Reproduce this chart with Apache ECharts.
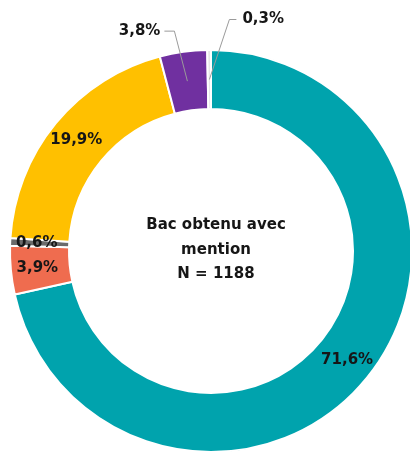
<!DOCTYPE html>
<html>
<head>
<meta charset="utf-8">
<script src="https://cdn.jsdelivr.net/npm/echarts@6/dist/echarts.min.js"></script>
<style>
  html, body { margin: 0; padding: 0; background: #fff; }
  #chart { width: 410px; height: 453px; }
</style>
</head>
<body>
<div id="chart"></div>
<script>
// donnees
var categories = ['71,6%', '3,9%', '0,6%', '19,9%', '3,8%', '0,3%'];
var values = [71.6, 3.9, 0.6, 19.9, 3.8, 0.3];
var colors = ['#00A3AD', '#EF6C4F', '#6B6B6B', '#FFC000', '#7030A0', '#E6E6E6'];
var outsideLabels = [4, 5]; // petites parts : etiquette dehors
var centerLines = ['Bac obtenu avec', 'mention', 'N = 1188'];

var CX = 211, CY = 251, R0 = 142, R1 = 201;
var FONT = '"DejaVu Sans"';

var chart = echarts.init(document.getElementById('chart'));

var labelText = {
  fontFamily: FONT,
  fontWeight: 'bold',
  fontSize: 15,
  color: '#161616'
};

// serie principale : parts + etiquettes internes
var mainData = values.map(function (v, i) {
  return {
    value: v,
    name: categories[i],
    itemStyle: { color: colors[i] },
    label: { show: outsideLabels.indexOf(i) < 0 }
  };
});

// serie superposee transparente : etiquettes externes avec trait au-dessus des parts
var overlayData = values.map(function (v, i) {
  var out = outsideLabels.indexOf(i) >= 0;
  return {
    value: v,
    name: categories[i],
    label: { show: out },
    labelLine: { show: out }
  };
});

var option = {
  animation: false,
  title: {
    text: centerLines.join('\n'),
    left: 211,
    top: 208,
    textAlign: 'center',
    textStyle: Object.assign({ lineHeight: 24.5 }, labelText)
  },
  series: [
    {
      type: 'pie',
      z: 2,
      center: [CX, CY],
      radius: [R0, R1],
      startAngle: 90,
      clockwise: true,
      avoidLabelOverlap: false,
      itemStyle: { borderColor: '#fff', borderWidth: 2 },
      label: Object.assign({ position: 'inside', formatter: '{b}' }, labelText),
      labelLine: { show: false },
      data: mainData
    },
    {
      type: 'pie',
      z: 3,
      silent: true,
      center: [CX, CY],
      radius: [R0, R1],
      startAngle: 90,
      clockwise: true,
      avoidLabelOverlap: false,
      itemStyle: { color: 'rgba(0,0,0,0)', borderWidth: 0 },
      label: Object.assign({ position: 'outside', formatter: '{b}' }, labelText),
      labelLine: { lineStyle: { color: '#9a9a9a', width: 1 } },
      labelLayout: function (params) {
        var i = params.dataIndex;
        if (outsideLabels.indexOf(i) < 0) return {};
        var p0 = params.labelLinePoints[0];
        var dx = p0[0] - CX, dy = p0[1] - CY;
        var len = Math.sqrt(dx * dx + dy * dy);
        var rm = (R0 + R1) / 2;
        var pm = [CX + dx / len * rm, CY + dy / len * rm];
        var elbow, end;
        if (i === 4) {
          elbow = [pm[0] - 13, pm[1] - 50];
          end = [elbow[0] - 10, elbow[1]];
          return {
            x: end[0] - 4, y: end[1], align: 'right', verticalAlign: 'middle',
            labelLinePoints: [pm, elbow, end]
          };
        }
        elbow = [pm[0] + 20, pm[1] - 60];
        end = [elbow[0] + 7, elbow[1]];
        return {
          x: end[0] + 6, y: end[1], align: 'left', verticalAlign: 'middle',
          labelLinePoints: [pm, elbow, end]
        };
      },
      data: overlayData
    }
  ]
};

chart.setOption(option);
</script>
</body>
</html>
